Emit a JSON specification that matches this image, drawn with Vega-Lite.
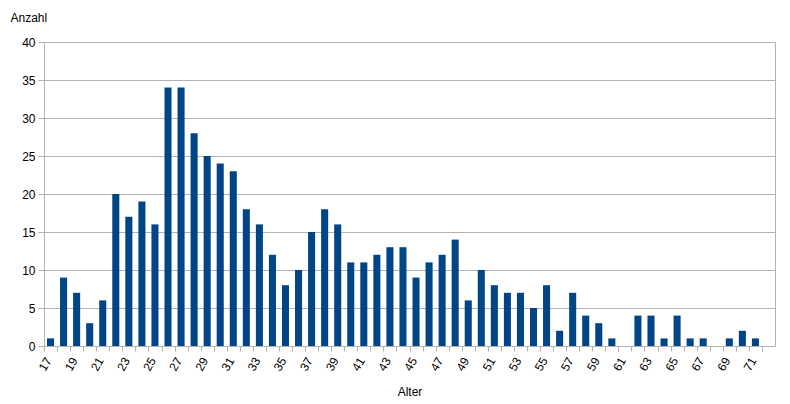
{
  "$schema": "https://vega.github.io/schema/vega-lite/v6.json",
  "width": 731,
  "height": 304,
  "autosize": {"type": "none"},
  "padding": {"left": 44, "top": 42, "right": 15, "bottom": 58},
  "background": "white",
  "config": {
    "font": "Liberation Sans",
    "view": {"stroke": "#b3b3b3", "strokeWidth": 1},
    "axis": {
      "labelFont": "Liberation Sans",
      "titleFont": "Liberation Sans",
      "labelColor": "#000000",
      "titleColor": "#000000",
      "labelFontSize": 12,
      "titleFontSize": 12,
      "titleFontWeight": "normal",
      "domainColor": "#b3b3b3",
      "tickColor": "#b3b3b3",
      "gridColor": "#b3b3b3",
      "gridOpacity": 1
    }
  },
  "data": {
    "values": [
      {"Alter": 17, "Anzahl": 1}, {"Alter": 18, "Anzahl": 9}, {"Alter": 19, "Anzahl": 7},
      {"Alter": 20, "Anzahl": 3}, {"Alter": 21, "Anzahl": 6}, {"Alter": 22, "Anzahl": 20},
      {"Alter": 23, "Anzahl": 17}, {"Alter": 24, "Anzahl": 19}, {"Alter": 25, "Anzahl": 16},
      {"Alter": 26, "Anzahl": 34}, {"Alter": 27, "Anzahl": 34}, {"Alter": 28, "Anzahl": 28},
      {"Alter": 29, "Anzahl": 25}, {"Alter": 30, "Anzahl": 24}, {"Alter": 31, "Anzahl": 23},
      {"Alter": 32, "Anzahl": 18}, {"Alter": 33, "Anzahl": 16}, {"Alter": 34, "Anzahl": 12},
      {"Alter": 35, "Anzahl": 8}, {"Alter": 36, "Anzahl": 10}, {"Alter": 37, "Anzahl": 15},
      {"Alter": 38, "Anzahl": 18}, {"Alter": 39, "Anzahl": 16}, {"Alter": 40, "Anzahl": 11},
      {"Alter": 41, "Anzahl": 11}, {"Alter": 42, "Anzahl": 12}, {"Alter": 43, "Anzahl": 13},
      {"Alter": 44, "Anzahl": 13}, {"Alter": 45, "Anzahl": 9}, {"Alter": 46, "Anzahl": 11},
      {"Alter": 47, "Anzahl": 12}, {"Alter": 48, "Anzahl": 14}, {"Alter": 49, "Anzahl": 6},
      {"Alter": 50, "Anzahl": 10}, {"Alter": 51, "Anzahl": 8}, {"Alter": 52, "Anzahl": 7},
      {"Alter": 53, "Anzahl": 7}, {"Alter": 54, "Anzahl": 5}, {"Alter": 55, "Anzahl": 8},
      {"Alter": 56, "Anzahl": 2}, {"Alter": 57, "Anzahl": 7}, {"Alter": 58, "Anzahl": 4},
      {"Alter": 59, "Anzahl": 3}, {"Alter": 60, "Anzahl": 1}, {"Alter": 61, "Anzahl": 0},
      {"Alter": 62, "Anzahl": 4}, {"Alter": 63, "Anzahl": 4}, {"Alter": 64, "Anzahl": 1},
      {"Alter": 65, "Anzahl": 4}, {"Alter": 66, "Anzahl": 1}, {"Alter": 67, "Anzahl": 1},
      {"Alter": 68, "Anzahl": 0}, {"Alter": 69, "Anzahl": 1}, {"Alter": 70, "Anzahl": 2},
      {"Alter": 71, "Anzahl": 1}, {"Alter": 72, "Anzahl": 0}
    ]
  },
  "mark": {"type": "bar", "color": "#004586"},
  "encoding": {
    "x": {
      "field": "Alter",
      "type": "ordinal",
      "scale": {"paddingInner": 0.46, "paddingOuter": 0.23},
      "axis": {
        "title": "Alter",
        "labelAngle": -60,
        "labelAlign": "right",
        "labelBaseline": "middle",
        "labelPadding": 7,
        "labelOffset": 4,
        "labelExpr": "datum.value % 2 == 1 ? datum.label : ''",
        "tickOffset": -6.5,
        "tickSize": 5,
        "grid": false,
        "titleY": 45,
        "titleBaseline": "middle"
      }
    },
    "y": {
      "field": "Anzahl",
      "type": "quantitative",
      "scale": {"domain": [0, 40]},
      "axis": {
        "title": "Anzahl",
        "values": [0, 5, 10, 15, 20, 25, 30, 35, 40],
        "tickSize": 6,
        "labelPadding": 3,
        "titleAngle": 0,
        "titleAlign": "left",
        "titleBaseline": "middle",
        "titleX": -34,
        "titleY": -25
      }
    }
  }
}
